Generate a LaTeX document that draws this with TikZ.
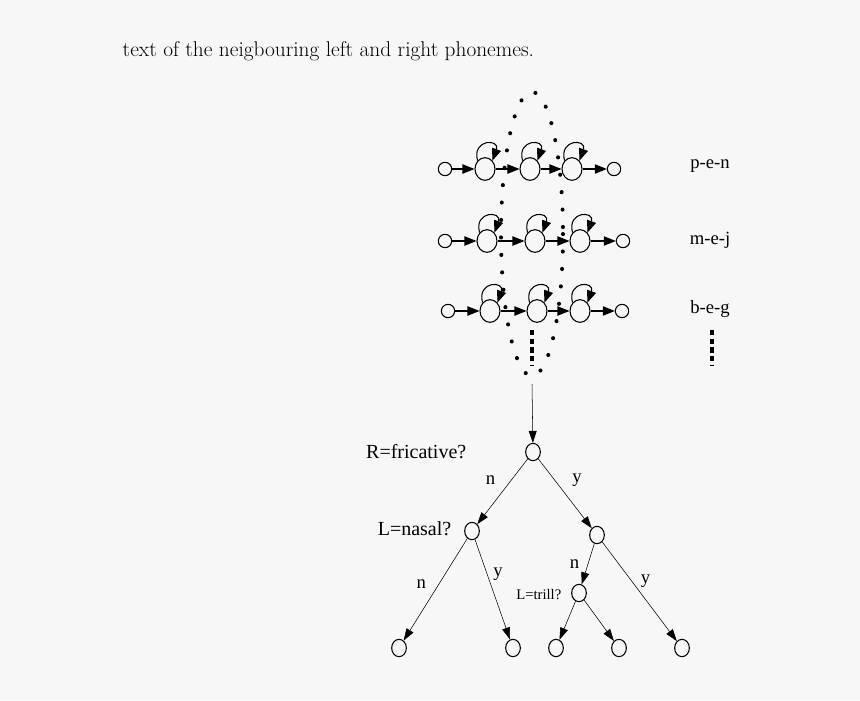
\documentclass[tikz,border=0pt]{standalone}
\usepackage{fontspec}
\newfontfamily\tms{Liberation Serif}
\usetikzlibrary{arrows.meta,shapes.geometric}
\begin{document}
\begin{tikzpicture}[x=0.75pt,y=-0.75pt,
  sm/.style={draw,thick,ellipse,minimum width=10pt,minimum height=10pt,inner sep=0pt},
  bg/.style={draw,thick,ellipse,minimum width=15pt,minimum height=17pt,inner sep=0pt},
  tn/.style={draw,thick,ellipse,minimum width=11pt,minimum height=13pt,inner sep=0pt},
  ar/.style={thick,-{Triangle[length=9pt,width=7pt]}},
  te/.style={thin,-{Triangle[length=9pt,width=6pt]}},
  lab/.style={font=\tms\fontsize{14}{16}\selectfont}]
\fill[white!97!black] (0,0) rectangle (860,700);
\node[anchor=west,font=\fontsize{16}{19}\selectfont] (t) at (118,51) {text of the neigbouring left and right phonemes.};
% rows
\foreach \r/\y/\a/\b/\c/\d/\e in {1/169/445/485/530/572/614, 2/241/445/487/535/580/623, 3/311/448/490/537/580/622}{
  \node[sm] (a\r) at (\a,\y) {};
  \node[bg] (b\r) at (\b,\y) {};
  \node[bg] (c\r) at (\c,\y) {};
  \node[bg] (d\r) at (\d,\y) {};
  \node[sm] (e\r) at (\e,\y) {};
  \draw[ar] (a\r) -- (b\r);
  \draw[ar] (b\r) -- (c\r);
  \draw[ar] (c\r) -- (d\r);
  \draw[ar] (d\r) -- (e\r);
  \foreach \s in {b,c,d}{\draw[thick,-{Triangle[length=9pt,width=7pt]}] (\s\r.north west) .. controls +(-6,-22) and +(8,-22) .. (\s\r.north east);}
}
\node[lab] (l1) at (710,166) {p-e-n};
\node[lab] (l2) at (710,240) {m-e-j};
\node[lab] (l3) at (710,309) {b-e-g};
\draw[line width=3pt,dash pattern=on 4pt off 2.5pt] (712,330) -- (712,365);
\draw[line width=3pt,dash pattern=on 4pt off 2.5pt] (532,330) -- (532,365);
\draw[line width=3pt,dash pattern=on 0.1pt off 13pt,line cap=round] (532,234) ellipse (31 and 142);
% tree
\node[tn] (r) at (533,452) {};
\coordinate (top) at (532,384);
\draw[te] (top) -- (r);
\node[tn] (n1) at (472,531) {};
\node[tn] (n2) at (597,535) {};
\node[tn] (n3) at (579,593) {};
\node[tn] (f1) at (399,648) {};
\node[tn] (f2) at (513,648) {};
\node[tn] (f3) at (556,648) {};
\node[tn] (f4) at (619,648) {};
\node[tn] (f5) at (682,648) {};
\draw[te] (r) -- node[lab,pos=0.5,above left=2pt] {n} (n1);
\draw[te] (r) -- node[lab,pos=0.5,above right=2pt] {y} (n2);
\draw[te] (n1) -- node[lab,pos=0.45,left=6pt] {n} (f1);
\draw[te] (n1) -- node[lab,pos=0.35,right=1pt] {y} (f2);
\draw[te] (n2) -- node[lab,pos=0.5,left=3pt] {n} (n3);
\draw[te] (n2) -- node[lab,pos=0.4,right=3pt] {y} (f5);
\draw[te] (n3) -- (f3);
\draw[te] (n3) -- (f4);
\node[lab,anchor=east,font=\tms\fontsize{15}{17}\selectfont] (q1) at (471,452) {R=fricative?};
\node[lab,anchor=east,font=\tms\fontsize{15}{17}\selectfont] (q2) at (456,529) {L=nasal?};
\node[lab,anchor=east,font=\tms\fontsize{11}{13}\selectfont] (q3) at (566,595) {L=trill?};
\end{tikzpicture}
\end{document}
